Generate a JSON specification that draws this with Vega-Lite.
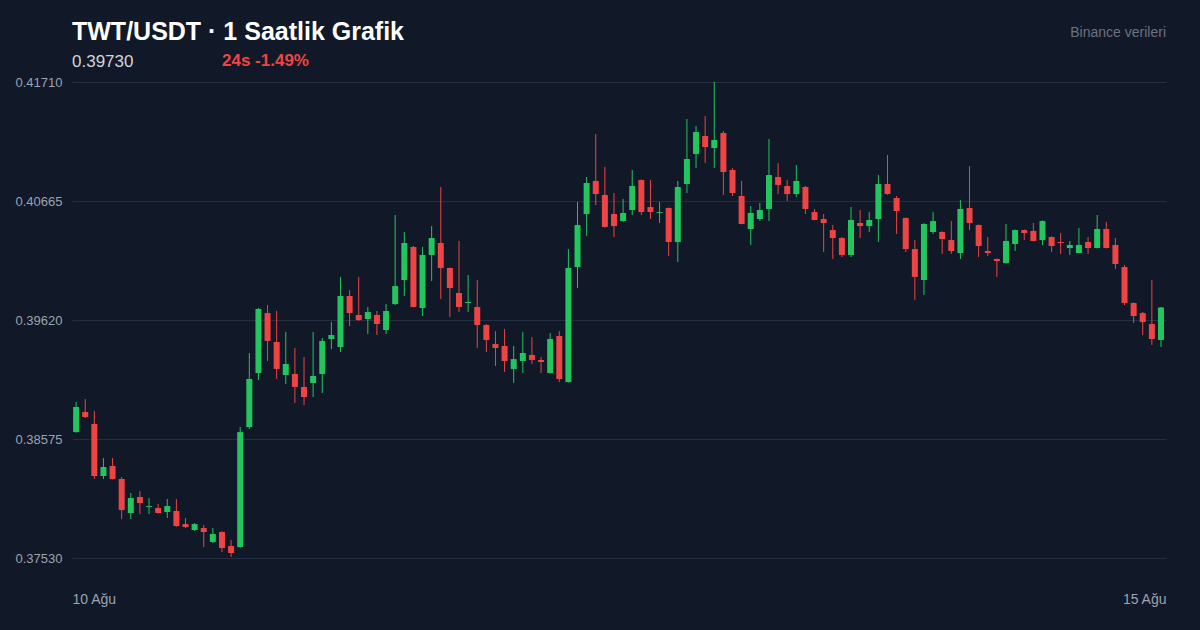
{
"$schema":"https://vega.github.io/schema/vega-lite/v6.json",
"width":1094,"height":476,
"autosize":{"type":"none"},
"padding":{"left":72,"top":82,"right":34,"bottom":72},
"background":"#111827",
"config":{"view":{"stroke":null},"font":"Liberation Sans"},
"title":{"text":"TWT/USDT · 1 Saatlik Grafik","subtitle":"0.39730","anchor":"start","frame":"group","fontSize":25,"fontWeight":"bold","color":"#ffffff","font":"Liberation Sans","subtitleFont":"Liberation Sans","subtitleFontSize":17,"subtitleColor":"#d1d5db","subtitlePadding":9,"offset":-44},
"datasets":{"candles":[
{"i":0,"o":0.38636,"h":0.38900,"l":0.38630,"c":0.38856},
{"i":1,"o":0.38812,"h":0.38926,"l":0.38759,"c":0.38768},
{"i":2,"o":0.38707,"h":0.38821,"l":0.38224,"c":0.38250},
{"i":3,"o":0.38250,"h":0.38408,"l":0.38224,"c":0.38329},
{"i":4,"o":0.38338,"h":0.38408,"l":0.38220,"c":0.38224},
{"i":5,"o":0.38224,"h":0.38241,"l":0.37872,"c":0.37951},
{"i":6,"o":0.37925,"h":0.38101,"l":0.37872,"c":0.38057},
{"i":7,"o":0.38066,"h":0.38118,"l":0.37916,"c":0.38013},
{"i":8,"o":0.37978,"h":0.38057,"l":0.37916,"c":0.37986},
{"i":9,"o":0.37969,"h":0.38004,"l":0.37920,"c":0.37925},
{"i":10,"o":0.37934,"h":0.38048,"l":0.37881,"c":0.37986},
{"i":11,"o":0.37943,"h":0.38048,"l":0.37805,"c":0.37811},
{"i":12,"o":0.37828,"h":0.37881,"l":0.37793,"c":0.37802},
{"i":13,"o":0.37776,"h":0.37837,"l":0.37767,"c":0.37828},
{"i":14,"o":0.37793,"h":0.37820,"l":0.37626,"c":0.37758},
{"i":15,"o":0.37670,"h":0.37793,"l":0.37662,"c":0.37741},
{"i":16,"o":0.37758,"h":0.37765,"l":0.37582,"c":0.37618},
{"i":17,"o":0.37635,"h":0.37688,"l":0.37539,"c":0.37574},
{"i":18,"o":0.37626,"h":0.38680,"l":0.37620,"c":0.38636},
{"i":19,"o":0.38680,"h":0.39330,"l":0.38663,"c":0.39102},
{"i":20,"o":0.39154,"h":0.39725,"l":0.39093,"c":0.39717},
{"i":21,"o":0.39681,"h":0.39752,"l":0.39260,"c":0.39436},
{"i":22,"o":0.39427,"h":0.39699,"l":0.39102,"c":0.39190},
{"i":23,"o":0.39137,"h":0.39515,"l":0.39058,"c":0.39234},
{"i":24,"o":0.39146,"h":0.39374,"l":0.38891,"c":0.39032},
{"i":25,"o":0.39032,"h":0.39295,"l":0.38873,"c":0.38944},
{"i":26,"o":0.39067,"h":0.39515,"l":0.38944,"c":0.39128},
{"i":27,"o":0.39146,"h":0.39462,"l":0.38979,"c":0.39436},
{"i":28,"o":0.39453,"h":0.39602,"l":0.39365,"c":0.39488},
{"i":29,"o":0.39383,"h":0.39998,"l":0.39339,"c":0.39831},
{"i":30,"o":0.39831,"h":0.39883,"l":0.39567,"c":0.39681},
{"i":31,"o":0.39664,"h":0.39998,"l":0.39611,"c":0.39620},
{"i":32,"o":0.39629,"h":0.39734,"l":0.39497,"c":0.39690},
{"i":33,"o":0.39664,"h":0.39699,"l":0.39488,"c":0.39585},
{"i":34,"o":0.39532,"h":0.39760,"l":0.39497,"c":0.39699},
{"i":35,"o":0.39760,"h":0.40542,"l":0.39752,"c":0.39918},
{"i":36,"o":0.39971,"h":0.40393,"l":0.39831,"c":0.40296},
{"i":37,"o":0.40261,"h":0.40270,"l":0.39730,"c":0.39734},
{"i":38,"o":0.39725,"h":0.40261,"l":0.39655,"c":0.40191},
{"i":39,"o":0.40191,"h":0.40445,"l":0.39962,"c":0.40340},
{"i":40,"o":0.40296,"h":0.40788,"l":0.39804,"c":0.40077},
{"i":41,"o":0.40077,"h":0.40080,"l":0.39646,"c":0.39901},
{"i":42,"o":0.39857,"h":0.40314,"l":0.39690,"c":0.39734},
{"i":43,"o":0.39769,"h":0.40015,"l":0.39690,"c":0.39778},
{"i":44,"o":0.39734,"h":0.39971,"l":0.39374,"c":0.39576},
{"i":45,"o":0.39576,"h":0.39585,"l":0.39339,"c":0.39444},
{"i":46,"o":0.39409,"h":0.39523,"l":0.39216,"c":0.39374},
{"i":47,"o":0.39392,"h":0.39541,"l":0.39163,"c":0.39260},
{"i":48,"o":0.39190,"h":0.39392,"l":0.39067,"c":0.39277},
{"i":49,"o":0.39260,"h":0.39515,"l":0.39154,"c":0.39330},
{"i":50,"o":0.39313,"h":0.39471,"l":0.39234,"c":0.39269},
{"i":51,"o":0.39269,"h":0.39295,"l":0.39154,"c":0.39251},
{"i":52,"o":0.39154,"h":0.39506,"l":0.39150,"c":0.39453},
{"i":53,"o":0.39479,"h":0.39523,"l":0.39075,"c":0.39102},
{"i":54,"o":0.39075,"h":0.40243,"l":0.39070,"c":0.40077},
{"i":55,"o":0.40085,"h":0.40656,"l":0.39901,"c":0.40454},
{"i":56,"o":0.40551,"h":0.40876,"l":0.40358,"c":0.40823},
{"i":57,"o":0.40841,"h":0.41253,"l":0.40630,"c":0.40726},
{"i":58,"o":0.40718,"h":0.40964,"l":0.40430,"c":0.40437},
{"i":59,"o":0.40551,"h":0.40735,"l":0.40349,"c":0.40445},
{"i":60,"o":0.40489,"h":0.40683,"l":0.40480,"c":0.40560},
{"i":61,"o":0.40586,"h":0.40937,"l":0.40542,"c":0.40797},
{"i":62,"o":0.40849,"h":0.40855,"l":0.40542,"c":0.40568},
{"i":63,"o":0.40612,"h":0.40849,"l":0.40507,"c":0.40568},
{"i":64,"o":0.40560,"h":0.40656,"l":0.40472,"c":0.40568},
{"i":65,"o":0.40604,"h":0.40608,"l":0.40182,"c":0.40305},
{"i":66,"o":0.40305,"h":0.40841,"l":0.40129,"c":0.40788},
{"i":67,"o":0.40814,"h":0.41385,"l":0.40735,"c":0.41034},
{"i":68,"o":0.41078,"h":0.41324,"l":0.40955,"c":0.41271},
{"i":69,"o":0.41236,"h":0.41411,"l":0.40999,"c":0.41139},
{"i":70,"o":0.41130,"h":0.41710,"l":0.40955,"c":0.41201},
{"i":71,"o":0.41262,"h":0.41280,"l":0.40718,"c":0.40920},
{"i":72,"o":0.40937,"h":0.40955,"l":0.40709,"c":0.40735},
{"i":73,"o":0.40709,"h":0.40841,"l":0.40460,"c":0.40463},
{"i":74,"o":0.40419,"h":0.40621,"l":0.40279,"c":0.40560},
{"i":75,"o":0.40507,"h":0.40647,"l":0.40489,"c":0.40586},
{"i":76,"o":0.40595,"h":0.41209,"l":0.40489,"c":0.40893},
{"i":77,"o":0.40876,"h":0.40999,"l":0.40726,"c":0.40806},
{"i":78,"o":0.40797,"h":0.40849,"l":0.40665,"c":0.40726},
{"i":79,"o":0.40726,"h":0.40981,"l":0.40700,"c":0.40841},
{"i":80,"o":0.40788,"h":0.40797,"l":0.40551,"c":0.40595},
{"i":81,"o":0.40568,"h":0.40595,"l":0.40495,"c":0.40498},
{"i":82,"o":0.40507,"h":0.40551,"l":0.40217,"c":0.40472},
{"i":83,"o":0.40410,"h":0.40454,"l":0.40156,"c":0.40340},
{"i":84,"o":0.40340,"h":0.40349,"l":0.40173,"c":0.40191},
{"i":85,"o":0.40191,"h":0.40612,"l":0.40173,"c":0.40498},
{"i":86,"o":0.40472,"h":0.40586,"l":0.40340,"c":0.40445},
{"i":87,"o":0.40445,"h":0.40568,"l":0.40393,"c":0.40498},
{"i":88,"o":0.40507,"h":0.40893,"l":0.40305,"c":0.40814},
{"i":89,"o":0.40814,"h":0.41069,"l":0.40720,"c":0.40726},
{"i":90,"o":0.40691,"h":0.40709,"l":0.40375,"c":0.40577},
{"i":91,"o":0.40516,"h":0.40520,"l":0.40217,"c":0.40243},
{"i":92,"o":0.40243,"h":0.40322,"l":0.39796,"c":0.39998},
{"i":93,"o":0.39971,"h":0.40470,"l":0.39839,"c":0.40463},
{"i":94,"o":0.40393,"h":0.40568,"l":0.40375,"c":0.40489},
{"i":95,"o":0.40393,"h":0.40400,"l":0.40200,"c":0.40331},
{"i":96,"o":0.40322,"h":0.40489,"l":0.40200,"c":0.40226},
{"i":97,"o":0.40208,"h":0.40674,"l":0.40156,"c":0.40595},
{"i":98,"o":0.40604,"h":0.40972,"l":0.40410,"c":0.40472},
{"i":99,"o":0.40454,"h":0.40460,"l":0.40173,"c":0.40270},
{"i":100,"o":0.40226,"h":0.40349,"l":0.40182,"c":0.40208},
{"i":101,"o":0.40156,"h":0.40160,"l":0.39998,"c":0.40138},
{"i":102,"o":0.40120,"h":0.40463,"l":0.40115,"c":0.40314},
{"i":103,"o":0.40287,"h":0.40415,"l":0.40226,"c":0.40410},
{"i":104,"o":0.40410,"h":0.40415,"l":0.40322,"c":0.40384},
{"i":105,"o":0.40402,"h":0.40472,"l":0.40310,"c":0.40314},
{"i":106,"o":0.40322,"h":0.40495,"l":0.40279,"c":0.40489},
{"i":107,"o":0.40349,"h":0.40355,"l":0.40217,"c":0.40270},
{"i":108,"o":0.40305,"h":0.40384,"l":0.40200,"c":0.40296},
{"i":109,"o":0.40252,"h":0.40314,"l":0.40191,"c":0.40279},
{"i":110,"o":0.40208,"h":0.40428,"l":0.40205,"c":0.40279},
{"i":111,"o":0.40305,"h":0.40349,"l":0.40200,"c":0.40252},
{"i":112,"o":0.40252,"h":0.40542,"l":0.40248,"c":0.40419},
{"i":113,"o":0.40419,"h":0.40481,"l":0.40248,"c":0.40252},
{"i":114,"o":0.40279,"h":0.40340,"l":0.40068,"c":0.40112},
{"i":115,"o":0.40085,"h":0.40103,"l":0.39752,"c":0.39769},
{"i":116,"o":0.39769,"h":0.39775,"l":0.39594,"c":0.39655},
{"i":117,"o":0.39681,"h":0.39690,"l":0.39488,"c":0.39602},
{"i":118,"o":0.39585,"h":0.39971,"l":0.39400,"c":0.39453},
{"i":119,"o":0.39444,"h":0.39735,"l":0.39383,"c":0.39730}
]},
"layer":[
{"data":{"name":"candles"},"mark":{"type":"rule","strokeWidth":1},
"encoding":{
"x":{"field":"i","type":"quantitative","scale":{"domain":[-0.45,119.55],"nice":false,"zero":false,"padding":0},
"axis":{"values":[-0.45,119.55],"labelExpr":"datum.value < 50 ? '10 Ağu' : '15 Ağu'","labelAlign":{"expr":"datum.value < 50 ? 'left' : 'right'"},"labelFlush":false,"grid":false,"domain":false,"ticks":false,"labelPadding":34,"labelFontSize":14,"labelColor":"#9ca3af","labelFont":"Liberation Sans","title":null}},
"y":{"field":"l","type":"quantitative","scale":{"domain":[0.3753,0.4171],"nice":false,"zero":false},
"axis":{"values":[0.3753,0.38575,0.3962,0.40665,0.4171],"format":".5f","grid":true,"gridColor":"#243042","gridWidth":1,"domain":false,"ticks":false,"labelPadding":10,"labelFontSize":13,"labelColor":"#9ca3af","labelFont":"Liberation Sans","title":null}},
"y2":{"field":"h"},
"color":{"condition":{"test":"datum.c >= datum.o","value":"#22c55e"},"value":"#ef4444"}
}},
{"data":{"name":"candles"},"mark":{"type":"bar","size":6},
"encoding":{
"x":{"field":"i","type":"quantitative"},
"y":{"field":"o","type":"quantitative"},
"y2":{"field":"c"},
"color":{"condition":{"test":"datum.c >= datum.o","value":"#22c55e"},"value":"#ef4444"}
}},
{"data":{"values":[{"label":"24s -1.49%"}]},"mark":{"type":"text","align":"left","baseline":"middle","fontSize":17,"fontWeight":"bold","color":"#ef4444","font":"Liberation Sans"},
"encoding":{"text":{"field":"label"},"x":{"value":150},"y":{"value":-21}}},
{"data":{"values":[{"label":"Binance verileri"}]},"mark":{"type":"text","align":"right","baseline":"middle","fontSize":14,"color":"#6b7280","font":"Liberation Sans"},
"encoding":{"text":{"field":"label"},"x":{"value":1094},"y":{"value":-49}}}
]
}
